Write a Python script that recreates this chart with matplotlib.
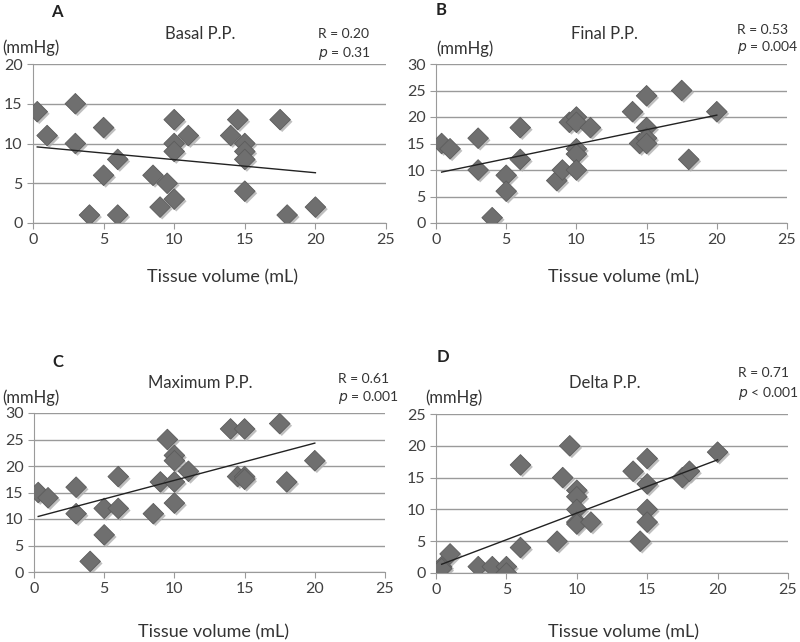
import numpy as np
import matplotlib
matplotlib.use('Agg')
import matplotlib.pyplot as plt
import matplotlib.patheffects as pe

plt.rcParams['font.family'] = ['Lato', 'DejaVu Sans']

# tissue volume (mL) vs pulse pressure (mmHg)
basal_x = [0.3, 1, 3, 3, 4, 5, 5, 6, 6, 8.5, 9, 9.5, 10, 10, 10, 10, 11,
           14, 14.5, 15, 15, 15, 15, 17.5, 18, 20]
basal_y = [14, 11, 15, 10, 1, 12, 6, 8, 1, 6, 2, 5, 13, 10, 9, 3, 11,
           11, 13, 10, 9, 8, 4, 13, 1, 2]

final_x = [0.4, 1, 3, 3, 4, 5, 5, 6, 6, 8.6, 9, 9.5, 10, 10, 10, 10, 10, 11,
           14, 14.5, 15, 15, 15, 15, 17.5, 18, 20]
final_y = [15, 14, 16, 10, 1, 9, 6, 18, 12, 8, 10, 19, 20, 19, 14, 13, 10, 18,
           21, 15, 24, 18, 16, 15, 25, 12, 21]

max_x = [0.3, 1, 3, 3, 4, 5, 5, 6, 6, 8.5, 9, 9.5, 10, 10, 10, 10, 11,
         14, 14.5, 15, 15, 15, 17.5, 18, 20]
max_y = [15, 14, 16, 11, 2, 12, 7, 18, 12, 11, 17, 25, 22, 21, 17, 13, 19,
         27, 18, 27, 18, 17.5, 28, 17, 21]

delta_x = [0.4, 0.4, 1, 3, 4, 5, 5, 6, 6, 8.6, 9, 9.5, 10, 10, 10, 10, 10, 11,
           14, 14.5, 15, 15, 15, 15, 17.5, 18, 20]
delta_y = [1, 0.7, 3, 1, 1, 1, 0, 17, 4, 5, 15, 20, 13, 12, 10, 8, 7.7, 8,
           16, 5, 18, 14, 10, 8, 15, 16, 19]

panels = [
    # letter, title, R, p, x, y, ymax
    ('A', 'Basal P.P.', 'R = 0.20', '= 0.31', basal_x, basal_y, 20),
    ('B', 'Final P.P.', 'R = 0.53', '= 0.004', final_x, final_y, 30),
    ('C', 'Maximum P.P.', 'R = 0.61', '= 0.001', max_x, max_y, 30),
    ('D', 'Delta P.P.', 'R = 0.71', '< 0.001', delta_x, delta_y, 25),
]

W, H = 800, 642
fig = plt.figure(figsize=(W / 100, H / 100), dpi=100)

def fx(px):
    return px / W

def fy(py):
    return 1 - py / H

# axes boxes in pixels: left, right, top, bottom
boxes = [(33, 386, 64, 223), (436, 787, 64, 223),
         (34, 385, 413, 572), (436, 788, 414, 573)]
# text anchors in pixels
letter_pos = [(57, 12), (441, 10), (58, 362), (443, 357)]
title_pos = [(200, 34), (604, 34), (200, 383), (605, 383)]
stat_pos = [(318, 34, 53), (737, 30, 48), (338, 379, 398), (738, 373, 393)]
unit_pos = [(2, 48), (436, 49), (2, 398), (425, 398)]
xlab_pos = [(222, 277), (623, 277), (213, 632), (623, 632)]

grey = '#9a9a9a'
shadow = [pe.SimplePatchShadow(offset=(1.5, -1.5), shadow_rgbFace='#b0b0b0', alpha=0.8), pe.Normal()]

for i, (letter, title, rtxt, ptxt, xs, ys, ymax) in enumerate(panels):
    l, r, t, b = boxes[i]
    ax = fig.add_axes([fx(l), fy(b), fx(r) - fx(l), fy(t) - fy(b)])
    ax.set_xlim(0, 25)
    ax.set_ylim(0, ymax)
    ax.set_xticks(range(0, 26, 5))
    ax.set_yticks(range(0, ymax + 1, 5))
    for s in ['top', 'right']:
        ax.spines[s].set_visible(False)
    ax.spines['left'].set_color(grey)
    ax.spines['bottom'].set_color(grey)
    ax.tick_params(colors='#404040', labelsize=11.5, length=4, width=0.8)
    ax.tick_params(axis='both', color=grey)
    ax.yaxis.grid(True, color=grey, linewidth=1)
    ax.set_axisbelow(True)

    sc = ax.scatter(xs, ys, marker='D', s=110, color='#6f6f6f',
                    edgecolors='#5c5c5c', linewidths=0.6, zorder=3)
    sc.set_path_effects(shadow)

    # least squares trend line
    k, c = np.polyfit(xs, ys, 1)
    xl = np.array([min(xs), max(xs)])
    ax.plot(xl, k * xl + c, color='#222222', linewidth=1, zorder=4)

    fig.text(fx(letter_pos[i][0]), fy(letter_pos[i][1]), letter, fontsize=12,
             fontweight='bold', ha='center', va='center', color='#222222')
    fig.text(fx(title_pos[i][0]), fy(title_pos[i][1]), title, fontsize=12,
             ha='center', va='center', color='#333333')
    fig.text(fx(stat_pos[i][0]), fy(stat_pos[i][1]), rtxt, fontsize=10,
             ha='left', va='center', color='#333333')
    fig.text(fx(stat_pos[i][0]), fy(stat_pos[i][2]), '$p$ ' + ptxt, fontsize=10,
             ha='left', va='center', color='#333333')
    fig.text(fx(unit_pos[i][0]), fy(unit_pos[i][1]), '(mmHg)', fontsize=12,
             ha='left', va='center', color='#333333')
    fig.text(fx(xlab_pos[i][0]), fy(xlab_pos[i][1]), 'Tissue volume (mL)', fontsize=13,
             ha='center', va='center', color='#333333')

fig.savefig('out.png', dpi=100)
